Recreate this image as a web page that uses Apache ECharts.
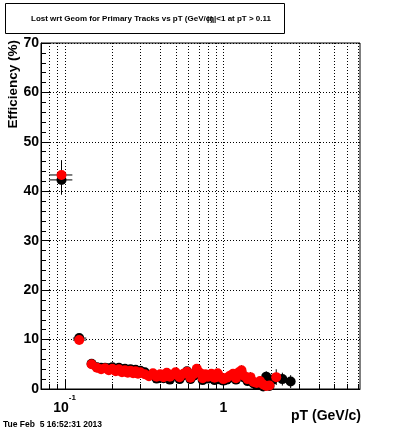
<!DOCTYPE html>
<html><head><meta charset="utf-8">
<script src="https://cdn.jsdelivr.net/npm/echarts@6/dist/echarts.min.js"></script>
<style>html,body{margin:0;padding:0;background:#fff}#c{width:400px;height:433px}</style>
</head><body><div id="c"></div>
<script>
// ---- data ----
const ptRed = [0.0957,0.1237,0.148,0.16,0.17,0.18,0.19,0.20,0.21,0.22,0.23,0.24,0.25,0.26,0.27,0.28,0.29,0.30,0.32,0.34,0.36,0.38,0.40,0.42,0.44,0.46,0.48,0.50,0.53,0.56,0.59,0.62,0.65,0.68,0.71,0.74,0.77,0.80,0.84,0.88,0.92,0.96,1.00,1.05,1.10,1.15,1.20,1.25,1.30,1.36,1.42,1.48,1.55,1.62,1.70,1.78,1.86,1.95,2.15];
const effRed = [43.3,9.9,5.0,4.3,4.0,4.2,3.8,4.1,3.6,4.0,3.4,3.8,3.3,3.7,3.2,3.6,3.1,3.4,3.0,2.6,3.2,2.5,3.0,2.4,3.3,2.5,2.9,3.4,2.4,3.1,3.5,2.3,3.0,4.1,3.3,2.2,3.0,2.5,3.1,2.3,3.2,2.4,2.0,2.3,2.7,3.1,2.2,3.4,3.8,2.6,2.0,2.4,1.4,1.2,1.6,0.9,0.6,0.7,2.4];
const errRed = [3.0,0.8,0.5,0.4,0.4,0.4,0.4,0.4,0.4,0.4,0.4,0.4,0.4,0.4,0.4,0.4,0.4,0.4,0.5,0.5,0.5,0.5,0.5,0.5,0.5,0.5,0.5,0.6,0.6,0.6,0.6,0.6,0.6,0.7,0.7,0.7,0.7,0.7,0.7,0.7,0.8,0.8,0.8,0.8,0.9,0.9,0.9,0.9,1.0,1.0,1.0,1.0,1.0,1.0,1.0,1.1,1.1,1.2,1.6];
const ptBlack = [0.0957,0.1237,0.148,0.16,0.17,0.18,0.19,0.20,0.21,0.22,0.23,0.24,0.25,0.26,0.27,0.28,0.29,0.30,0.32,0.34,0.36,0.38,0.40,0.42,0.44,0.46,0.48,0.50,0.53,0.56,0.59,0.62,0.65,0.68,0.71,0.74,0.77,0.80,0.84,0.88,0.92,0.96,1.00,1.05,1.10,1.15,1.20,1.25,1.30,1.36,1.42,1.48,1.55,1.62,1.70,1.78,1.86,1.95,2.05,2.35,2.65];
const effBlack = [42.3,10.3,5.1,4.4,4.3,4.3,4.2,4.4,4.0,4.3,3.9,4.1,3.8,4.0,3.7,3.9,3.6,3.7,3.4,2.8,3.0,2.1,2.8,2.2,2.9,1.9,2.7,3.0,2.0,2.8,3.6,2.0,2.7,3.6,2.9,1.8,2.6,2.1,2.8,1.8,2.9,1.9,1.7,1.9,2.3,2.7,1.9,2.9,3.3,2.3,1.6,2.0,1.1,0.8,1.2,0.5,2.5,0.6,1.9,2.0,1.5];
const errBlack = [3.0,0.8,0.5,0.4,0.4,0.4,0.4,0.4,0.4,0.4,0.4,0.4,0.4,0.4,0.4,0.4,0.4,0.4,0.5,0.5,0.5,0.5,0.5,0.5,0.5,0.5,0.5,0.6,0.6,0.6,0.6,0.6,0.6,0.7,0.7,0.7,0.7,0.7,0.7,0.7,0.8,0.8,0.8,0.8,0.9,0.9,0.9,0.9,1.0,1.0,1.0,1.0,1.0,1.0,1.0,1.1,1.1,1.2,1.2,1.3,1.3];
// x-bin edges for the first two (isolated) bins
const binLo = [0.080,0.113];
const binHi = [0.112,0.137];
const xGridVals = [0.08,0.09,0.1,0.2,0.3,0.4,0.5,0.6,0.7,0.8,0.9,1,2,3,4,5,6,7];
const xMajor = [0.1,1];
const xMinor = [0.08,0.09,0.2,0.3,0.4,0.5,0.6,0.7,0.8,0.9,2,3,4,5,6,7];
const yTicks = [0,10,20,30,40,50,60,70];
const titleText = 'Lost wrt Geom for Primary Tracks vs pT (GeV/c)';
const titleText2 = '|\u03b7|<1 at pT > 0.11';
const dateText = 'Tue Feb  5 16:52:31 2013';

const X_MIN = 0.0711, X_MAX = 7.24, Y_MIN = 0, Y_MAX = 70;

function errData(pt, eff, err) {
  return pt.map((x, i) => [x, eff[i], err[i] || 0,
    i < binLo.length ? binLo[i] : x, i < binHi.length ? binHi[i] : x]);
}
function errRender(params, api) {
  const x = api.value(0), y = api.value(1), e = api.value(2), lo = api.value(3), hi = api.value(4);
  const top = api.coord([x, y + e]), bot = api.coord([x, Math.max(Y_MIN, y - e)]);
  const l = api.coord([lo, y]), r = api.coord([hi, y]);
  const st = {stroke: '#000', lineWidth: 1};
  return {type: 'group', children: [
    {type: 'line', shape: {x1: top[0], y1: top[1], x2: bot[0], y2: bot[1]}, style: st},
    {type: 'line', shape: {x1: l[0], y1: l[1], x2: r[0], y2: r[1]}, style: st}
  ]};
}
const chart = echarts.init(document.getElementById('c'), null, {renderer: 'canvas'});
const F = 'Liberation Sans, Arial, Helvetica, sans-serif';
chart.setOption({
  animation: false,
  backgroundColor: '#fff',
  grid: {left: 41, right: 40, top: 43, bottom: 44, show: true, borderColor: '#000', borderWidth: 1, backgroundColor: '#fff'},
  xAxis: {
    type: 'log', logBase: 10, min: X_MIN, max: X_MAX,
    axisLine: {show: true, onZero: false, lineStyle: {color: '#000', width: 1}},
    axisTick: {show: false}, splitLine: {show: false}, minorTick: {show: false}, minorSplitLine: {show: false},
    axisLabel: {
      margin: 5, color: '#000', showMinLabel: false, showMaxLabel: false,
      formatter: function (v) {
        const l = Math.log10(v);
        if (Math.abs(l + 1) < 1e-6) return '{b|10}{s|-1}';
        if (Math.abs(l) < 1e-6) return '{b|1}';
        return '';
      },
      rich: {
        b: {fontFamily: F, fontWeight: 'bold', fontSize: 14, color: '#000', padding: [7, 0, 0, 0]},
        s: {fontFamily: F, fontWeight: 'bold', fontSize: 8, color: '#000', verticalAlign: 'top'}
      }
    }
  },
  yAxis: {
    type: 'value', min: Y_MIN, max: Y_MAX, interval: 10,
    axisLine: {show: true, lineStyle: {color: '#000', width: 1}},
    axisTick: {show: true, inside: true, length: 9, lineStyle: {color: '#000'}},
    minorTick: {show: true, splitNumber: 5, length: 5, lineStyle: {color: '#000'}},
    splitLine: {show: true, lineStyle: {color: '#000', width: 1, type: [1, 2]}},
    axisLabel: {margin: 2, color: '#000', fontFamily: F, fontWeight: 'bold', fontSize: 14,
      formatter: function (v) { return yTicks.indexOf(v) >= 0 ? String(v) : ''; }}
  },
  graphic: [
    {type: 'rect', shape: {x: 5.5, y: 3.5, width: 279, height: 30}, style: {fill: '#fff', stroke: '#000', lineWidth: 1}, z: 10},
    {type: 'text', x: 31, y: 18.5, style: {text: titleText, fontFamily: F, fontWeight: 'bold', fontSize: 8, fill: '#000', verticalAlign: 'middle', align: 'left'}, z: 11},
    {type: 'text', x: 271, y: 18.5, style: {text: titleText2, fontFamily: F, fontWeight: 'bold', fontSize: 8, fill: '#000', verticalAlign: 'middle', align: 'right'}, z: 11},
    {type: 'text', x: 13.5, y: 40, rotation: Math.PI / 2, style: {text: 'Efficiency (%)', fontFamily: F, fontWeight: 'bold', fontSize: 13.5, fill: '#000', verticalAlign: 'middle', align: 'right'}, z: 11},
    {type: 'text', x: 361, y: 416.5, style: {text: 'pT (GeV/c)', fontFamily: F, fontWeight: 'bold', fontSize: 14, fill: '#000', verticalAlign: 'middle', align: 'right'}, z: 11},
    {type: 'text', x: 3, y: 424.5, style: {text: dateText, fontFamily: F, fontWeight: 'bold', fontSize: 8.5, fill: '#000', verticalAlign: 'middle', align: 'left'}, z: 11}
  ],
  series: [
    {type: 'custom', silent: true, z: 1, data: xGridVals.map(v => [v]),
      renderItem: function (p, api) {
        const a = api.coord([api.value(0), Y_MIN]), b = api.coord([api.value(0), Y_MAX]);
        return {type: 'line', shape: {x1: Math.round(a[0]) + 0.5, y1: a[1], x2: Math.round(a[0]) + 0.5, y2: b[1]},
          style: {stroke: '#000', lineWidth: 1, lineDash: [1, 2]}};
      }},
    {type: 'custom', silent: true, z: 1, data: xMajor.map(v => [v, 10]).concat(xMinor.map(v => [v, 5])),
      renderItem: function (p, api) {
        const a = api.coord([api.value(0), Y_MIN]);
        const x = Math.round(a[0]) + 0.5;
        return {type: 'line', shape: {x1: x, y1: a[1], x2: x, y2: a[1] - api.value(1)},
          style: {stroke: '#000', lineWidth: 1}};
      }},
    {type: 'custom', silent: true, z: 2, data: errData(ptBlack, effBlack, errBlack), renderItem: errRender},
    {type: 'scatter', silent: true, z: 3, symbol: 'circle', symbolSize: 10,
      itemStyle: {color: '#000', opacity: 1}, data: ptBlack.map((x, i) => [x, effBlack[i]])},
    {type: 'custom', silent: true, z: 4, data: errData(ptRed, effRed, errRed), renderItem: errRender},
    {type: 'scatter', silent: true, z: 5, symbol: 'circle', symbolSize: 10,
      itemStyle: {color: '#ff0000', opacity: 1}, data: ptRed.map((x, i) => [x, effRed[i]])}
  ]
});
</script></body></html>
